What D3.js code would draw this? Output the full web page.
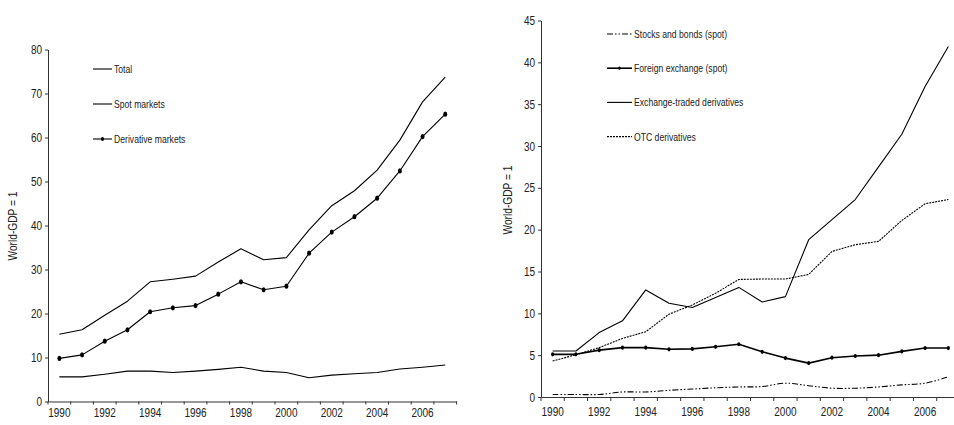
<!DOCTYPE html>
<html>
<head>
<meta charset="utf-8">
<script src="https://cdn.jsdelivr.net/npm/d3@7"></script>
<style>
  html, body { margin: 0; padding: 0; background: #fff; }
  svg { display: block; }
  text { font-family: "Liberation Sans", Arial, sans-serif; fill: #222; }
</style>
</head>
<body>
<svg id="chart" width="954" height="425"></svg>
<script>
// ---------- DATA ----------
const years = [1990,1991,1992,1993,1994,1995,1996,1997,1998,1999,2000,2001,2002,2003,2004,2005,2006,2007];
const yearLabels = [1990,1992,1994,1996,1998,2000,2002,2004,2006];

// Left panel
const totalSeries      = [15.3,16.3,19.6,22.8,27.2,27.8,28.5,31.7,34.7,32.2,32.7,39.0,44.5,47.9,52.6,59.4,68.1,73.7];
const spotSeries       = [5.6,5.6,6.2,6.9,6.9,6.6,6.9,7.3,7.8,6.9,6.6,5.4,6.0,6.3,6.6,7.4,7.8,8.3];
const derivSeries      = [9.8,10.6,13.7,16.3,20.4,21.3,21.8,24.4,27.2,25.4,26.2,33.7,38.5,42.0,46.2,52.4,60.2,65.3];
const leftTicks        = [0,10,20,30,40,50,60,70,80];
const leftNames        = ["Total","Spot markets","Derivative markets"];

// Right panel
const stocksSeries     = [0.3,0.3,0.3,0.6,0.6,0.8,0.95,1.1,1.2,1.25,1.65,1.35,1.05,1.05,1.2,1.45,1.65,2.4];
const fxSeries         = [5.1,5.1,5.6,5.9,5.9,5.7,5.75,6.0,6.3,5.4,4.65,4.05,4.7,4.9,5.0,5.45,5.85,5.85];
const etdSeries        = [5.5,5.5,7.7,9.1,12.8,11.2,10.7,11.9,13.1,11.35,12.0,18.8,21.2,23.6,27.5,31.4,37.1,41.9];
const otcSeries        = [4.3,5.05,5.9,7.0,7.8,9.9,11.0,12.4,14.05,14.1,14.1,14.65,17.4,18.2,18.6,21.1,23.1,23.6];
const rightTicks       = [0,5,10,15,20,25,30,35,40,45];
const rightNames       = ["Stocks and bonds (spot)","Foreign exchange (spot)","Exchange-traded derivatives","OTC derivatives"];

const yTitle = "World-GDP = 1";

// ---------- DRAW ----------
const svg = d3.select("#chart");

// horizontally condense text (reference uses a narrow typeface)
function condense(sel, k) {
  sel.each(function () {
    const w = this.getComputedTextLength();
    if (w > 0) d3.select(this).attr("textLength", w * k).attr("lengthAdjust", "spacingAndGlyphs");
  });
}

function panel(cfg) {
  const g = svg.append("g");
  const x = d3.scaleBand().domain(years).range([cfg.x0, cfg.x1]).paddingInner(0).paddingOuter(0);
  const y = d3.scaleLinear().domain([0, cfg.ymax]).range([cfg.y0, cfg.y1]);
  const cx = yr => x(yr) + x.bandwidth() / 2;

  // y axis
  const ya = g.append("g").attr("transform", `translate(${cfg.x0},0)`)
    .call(d3.axisLeft(y).tickValues(cfg.ticks).tickSize(3).tickSizeOuter(0).tickPadding(3));
  ya.selectAll("text").style("font-size", "12.5px").attr("fill", "#333").call(condense, 0.8);
  ya.selectAll("line").attr("stroke", "#333");
  ya.select(".domain").attr("stroke", "#333");

  // x axis (labels at category centres, every other year)
  const xa = g.append("g").attr("transform", `translate(0,${cfg.y0})`)
    .call(d3.axisBottom(x).tickValues(yearLabels).tickSize(0).tickPadding(cfg.xPad).tickSizeOuter(0));
  xa.selectAll("text").style("font-size", "12.5px").attr("fill", "#333").call(condense, 0.8);
  xa.select(".domain").attr("stroke", "#333");
  // tick marks between categories
  const bounds = years.map(yr => x(yr)).concat([cfg.x1]);
  g.append("g").selectAll("line").data(bounds).join("line")
    .attr("x1", d => d).attr("x2", d => d)
    .attr("y1", cfg.y0).attr("y2", cfg.y0 + cfg.xTick)
    .attr("stroke", "#333");

  // y title
  g.append("text")
    .attr("transform", `translate(${cfg.titleX},${cfg.titleY}) rotate(-90)`)
    .attr("text-anchor", "middle")
    .style("font-size", "12px")
    .attr("fill", "#333")
    .text(yTitle)
    .call(condense, 0.85);

  // series
  cfg.series.forEach(s => {
    const line = d3.line().x((d, i) => cx(years[i])).y(d => y(d)).curve(s.curve || d3.curveLinear);
    g.append("path").datum(s.values)
      .attr("d", line)
      .attr("fill", "none")
      .attr("stroke", "#000")
      .attr("stroke-width", s.width || 1.1)
      .attr("stroke-dasharray", s.dash || null)
      .attr("stroke-linejoin", "round");
    if (s.marker) {
      g.append("g").selectAll("ellipse").data(s.values).join("ellipse")
        .attr("cx", (d, i) => cx(years[i])).attr("cy", d => y(d))
        .attr("rx", s.mr).attr("ry", s.mr * 1.3).attr("fill", "#000");
    }
  });

  // legend
  cfg.series.forEach((s, i) => {
    const ly = cfg.legY + i * cfg.legStep;
    g.append("line")
      .attr("x1", cfg.legX).attr("x2", cfg.legX + cfg.legLen)
      .attr("y1", ly).attr("y2", ly)
      .attr("stroke", "#000")
      .attr("stroke-width", s.width || 1.1)
      .attr("stroke-dasharray", s.dash || null);
    if (s.marker) {
      g.append("ellipse").attr("cx", cfg.legX + cfg.legLen / 2).attr("cy", ly)
        .attr("rx", s.mr * 0.8).attr("ry", s.mr).attr("fill", "#000");
    }
    g.append("text")
      .attr("x", cfg.legX + cfg.legLen + 2).attr("y", ly)
      .attr("dy", "0.35em")
      .style("font-size", "11.5px")
      .attr("fill", "#333")
      .text(s.name)
      .call(condense, 0.75);
  });
}

panel({
  x0: 48, x1: 456.6, y0: 401.5, y1: 49.5, ymax: 80, ticks: leftTicks,
  xPad: 7, xTick: 3, titleX: 17, titleY: 226,
  legX: 93, legLen: 19, legY: 69, legStep: 35,
  series: [
    { name: leftNames[0], values: totalSeries },
    { name: leftNames[1], values: spotSeries },
    { name: leftNames[2], values: derivSeries, marker: true, mr: 2.0 }
  ]
});

panel({
  x0: 541, x1: 960, y0: 397, y1: 20.5, ymax: 45, ticks: rightTicks,
  xPad: 10, xTick: 4, titleX: 512, titleY: 200,
  legX: 607, legLen: 25, legY: 34, legStep: 34.2,
  series: [
    { name: rightNames[0], values: stocksSeries, dash: "6,2,1.5,2,1.5,2", curve: d3.curveCatmullRom },
    { name: rightNames[1], values: fxSeries, marker: true, mr: 1.6, width: 1.6 },
    { name: rightNames[2], values: etdSeries },
    { name: rightNames[3], values: otcSeries, dash: "2,1" }
  ]
});
</script>
</body>
</html>
